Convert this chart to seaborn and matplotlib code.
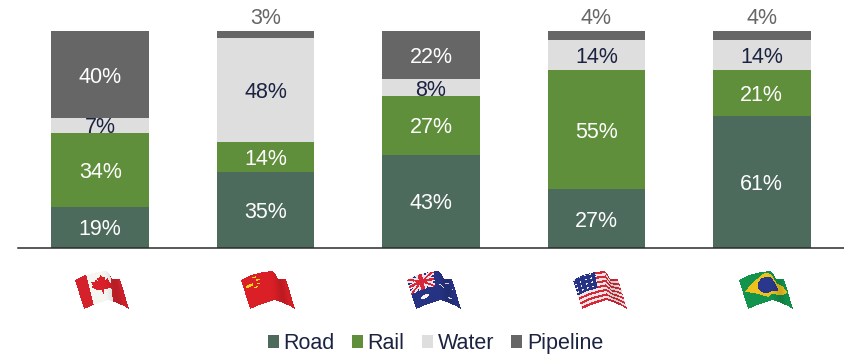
import numpy as np
import pandas as pd
import matplotlib
matplotlib.use("Agg")
import matplotlib.pyplot as plt
from matplotlib.patches import Patch
from matplotlib.path import Path
import seaborn as sns

countries = ["Canada", "China", "Australia", "United States", "Brazil"]
road = [19, 35, 43, 27, 61]
rail = [34, 14, 27, 55, 21]
water = [7, 48, 8, 14, 14]
pipeline = [40, 3, 22, 4, 4]

modes = ["Road", "Rail", "Water", "Pipeline"]
shares = [road, rail, water, pipeline]
mode_colors = ["#4D6B5D", "#5F8F3A", "#DEDEDE", "#666666"]
label_colors = ["white", "white", "#1B2341", "white"]

NAVY = "#1B2341"
W, H = 844, 356

sns.set_theme(style="white")
plt.rcParams["font.family"] = ["Liberation Sans", "DejaVu Sans"]

fig = plt.figure(figsize=(W / 100, H / 100), dpi=100)
ax = fig.add_axes([17.5 / W, 1 - 248 / H, 827 / W, 217 / H])

# Stacked bars, one seaborn layer per transport mode
table = pd.DataFrame(dict(zip(modes, shares)), index=countries)
base = np.zeros(len(countries))
for mode, color, text_color in zip(modes, mode_colors, label_colors):
    sns.barplot(x=countries, y=table[mode].to_numpy(), bottom=base, color=color,
                saturation=1, width=0.59, ax=ax, linewidth=0, zorder=2)
    for i, value in enumerate(table[mode]):
        if value <= 4:
            # Thin slices get their label above the stack, in grey
            ax.text(i, base[i] + value + 0.9, f"{value}%", ha="center", va="bottom",
                    fontsize=15.5, color="#666666")
        else:
            ax.text(i, base[i] + value / 2 - 1.2, f"{value}%", ha="center",
                    va="center", fontsize=15.5, color=text_color, zorder=3)
    base = base + table[mode].to_numpy()

ax.set_xlim(-0.5, 4.5)
ax.set_ylim(0, 100)
ax.set_xlabel("")
ax.set_ylabel("")
ax.set_xticks([])
ax.set_yticks([])
sns.despine(ax=ax, left=True, top=True, right=True)
ax.spines["bottom"].set_color("#2B2B2B")
ax.spines["bottom"].set_linewidth(1.1)
ax.patch.set_alpha(0)

handles = [Patch(facecolor=c, edgecolor="none", label=m)
           for m, c in zip(modes, mode_colors)]
fig.legend(handles=handles, loc="center", bbox_to_anchor=(435.5 / W, 1 - 343.5 / H),
           ncol=4, frameon=False, fontsize=15.5, labelcolor=NAVY,
           handlelength=0.52, handleheight=0.52, handletextpad=0.22,
           columnspacing=0.79, borderpad=0, borderaxespad=0)


# --- waving flag emblems under the bars ---
def star_mask(U, V, cu, cv, r):
    return ((U - cu) / 1.5) ** 2 + (V - cv) ** 2 < r ** 2


LEAF = Path([(0.47, 0.10), (0.51, 0.20), (0.56, 0.17), (0.55, 0.30), (0.60, 0.24),
             (0.62, 0.30), (0.68, 0.28), (0.66, 0.42), (0.69, 0.46), (0.58, 0.60),
             (0.50, 0.60), (0.50, 0.76), (0.47, 0.76), (0.46, 0.60), (0.36, 0.58),
             (0.27, 0.44), (0.30, 0.40), (0.28, 0.28), (0.34, 0.30), (0.36, 0.24),
             (0.41, 0.30), (0.40, 0.17), (0.44, 0.20)])


def canada(U, V):
    img = np.ones(U.shape + (3,)) * np.array([0.96, 0.96, 0.95])
    img[(U < 0.22) | (U > 0.65)] = [0.83, 0.13, 0.17]
    inside = LEAF.contains_points(np.column_stack([U.ravel(), V.ravel()])).reshape(U.shape)
    img[inside] = [0.85, 0.12, 0.16]
    return img


def china(U, V):
    img = np.ones(U.shape + (3,)) * np.array([0.86, 0.12, 0.15])
    yellow = [0.96, 0.83, 0.12]
    img[star_mask(U, V, 0.12, 0.30, 0.05)] = yellow
    for cu, cv in [(0.24, 0.10), (0.30, 0.20), (0.30, 0.33), (0.24, 0.42)]:
        img[star_mask(U, V, cu, cv, 0.025)] = yellow
    return img


def australia(U, V):
    img = np.ones(U.shape + (3,)) * np.array([0.15, 0.20, 0.52])
    canton = (U < 0.5) & (V < 0.5)
    Uc, Vc = U / 0.5, V / 0.5
    white = canton & ((np.abs(Uc - Vc) < 0.2) | (np.abs(Uc + Vc - 1) < 0.2)
                      | (np.abs(Uc - 0.5) < 0.16) | (np.abs(Vc - 0.5) < 0.16))
    red = canton & ((np.abs(Uc - Vc) < 0.07) | (np.abs(Uc + Vc - 1) < 0.07)
                    | (np.abs(Uc - 0.5) < 0.08) | (np.abs(Vc - 0.5) < 0.08))
    img[white] = [0.93, 0.90, 0.92]
    img[red] = [0.85, 0.15, 0.22]
    for cu, cv, r in [(0.25, 0.74, 0.06), (0.72, 0.18, 0.025), (0.84, 0.40, 0.025),
                      (0.62, 0.46, 0.025), (0.74, 0.78, 0.025)]:
        img[star_mask(U, V, cu, cv, r)] = [0.95, 0.95, 0.97]
    return img


def usa(U, V):
    img = np.ones(U.shape + (3,)) * np.array([0.94, 0.90, 0.91])
    stripes = (np.floor(V * 13).astype(int) % 2) == 0
    img[stripes] = [0.84, 0.16, 0.22]
    canton = (U < 0.42) & (V < 0.54)
    img[canton] = [0.15, 0.20, 0.52]
    dots = canton & (np.sin(U * 62) > 0.55) & (np.sin(V * 46) > 0.5)
    img[dots] = [0.93, 0.93, 0.97]
    return img


def brazil(U, V):
    img = np.ones(U.shape + (3,)) * np.array([0.07, 0.58, 0.30])
    img[np.abs(U - 0.5) / 0.46 + np.abs(V - 0.45) / 0.42 < 1] = [0.93, 0.76, 0.12]
    img[((U - 0.5) / 0.19) ** 2 + ((V - 0.45) / 0.27) ** 2 < 1] = [0.16, 0.22, 0.55]
    return img


overlay = fig.add_axes([0, 0, 1, 1], zorder=5)
overlay.set_xlim(0, W)
overlay.set_ylim(H, 0)
overlay.axis("off")

# Outline of a rippling flag, relative to its upper-left corner
top_u = [0, 0.2, 0.42, 0.6, 0.68, 0.8, 1.0]
top_dx = [0, 10, 22, 32, 37, 43, 45]
top_y = [280, 275, 272, 271, 279, 279, 279]
low_dx = [9, 18, 27, 34, 40, 47, 54]
low_y = [309, 305, 302, 300, 302, 305, 309]

n_u, n_v = 150, 110
for left, paint in zip([75, 241, 407, 573, 739], [canada, china, australia, usa, brazil]):
    u = np.linspace(0, 1, n_u + 1)
    v = np.linspace(0, 1, n_v + 1)
    tx, ty = np.interp(u, top_u, top_dx), np.interp(u, top_u, top_y)
    bx, by = np.interp(u, top_u, low_dx), np.interp(u, top_u, low_y)
    Vg, Ug = np.meshgrid(v, u, indexing="ij")
    X = left + tx[None, :] * (1 - Vg) + bx[None, :] * Vg
    Y = ty[None, :] * (1 - Vg) + by[None, :] * Vg
    uc = (u[:-1] + u[1:]) / 2
    vc = (v[:-1] + v[1:]) / 2
    Vm, Um = np.meshgrid(vc, uc, indexing="ij")
    rgb = paint(Um, Vm)
    # Darken the fold toward the fly end of the cloth
    shade = 1 - 0.14 * np.exp(-((Um - 0.72) / 0.1) ** 2) - 0.05 * np.exp(-((Um - 0.98) / 0.1) ** 2)
    rgb = np.clip(rgb * shade[..., None], 0, 1)
    overlay.pcolormesh(X, Y, rgb, shading="flat", rasterized=True, antialiased=False)

fig.savefig("out.png", dpi=100)
